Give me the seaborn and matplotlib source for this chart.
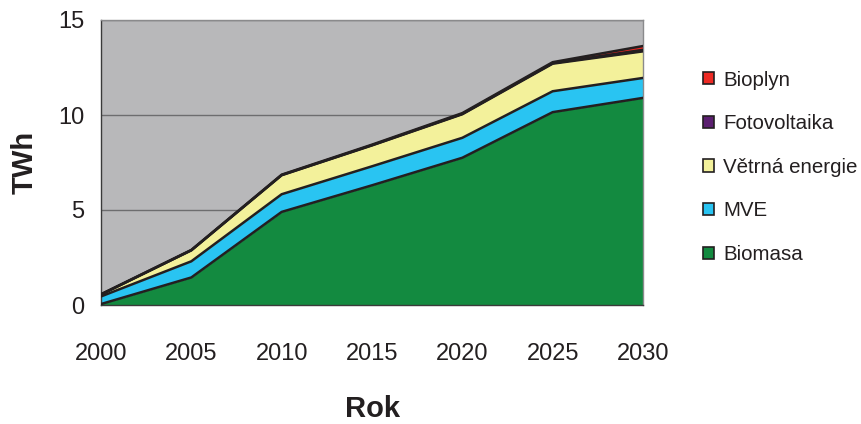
import matplotlib
matplotlib.use("Agg")
import matplotlib.pyplot as plt
from matplotlib.patches import Patch
import seaborn as sns
import pandas as pd
import numpy as np

# Electricity production from renewable sources (TWh)
years = [2000, 2005, 2010, 2015, 2020, 2025, 2030]
biomasa = [0.05, 1.45, 4.90, 6.30, 7.75, 10.15, 10.90]
mve = [0.40, 0.85, 0.93, 1.00, 1.05, 1.10, 1.05]
vetrna = [0.10, 0.58, 1.00, 1.10, 1.24, 1.45, 1.40]
fotovoltaika = [0.00, 0.00, 0.01, 0.01, 0.02, 0.03, 0.08]
bioplyn = [0.02, 0.02, 0.02, 0.03, 0.04, 0.05, 0.20]

series = ["Biomasa", "MVE", "Větrná energie", "Fotovoltaika", "Bioplyn"]
colors = ["#138a40", "#29c4f2", "#f3f19b", "#5b1f70", "#ee2a24"]

df = pd.DataFrame({"Rok": years, "Biomasa": biomasa, "MVE": mve,
                   "Větrná energie": vetrna, "Fotovoltaika": fotovoltaika,
                   "Bioplyn": bioplyn})

sns.set_theme(style="white")
plt.rcParams["font.family"] = ["Liberation Sans", "DejaVu Sans"]

fig = plt.figure(figsize=(8.61, 4.24), dpi=100)
ax = fig.add_axes([101 / 861, 119 / 424, 542 / 861, 285 / 424])
ax.set_facecolor("#b8b8ba")

cum = df[series].cumsum(axis=1)
lower = np.zeros(len(df))
for name, col in zip(series, colors):
    upper = cum[name].to_numpy()
    ax.fill_between(df["Rok"], lower, upper, color=col, linewidth=0, zorder=2)
    lower = upper

long = cum.assign(Rok=df["Rok"]).melt(id_vars="Rok", var_name="vrstva", value_name="TWh")
sns.lineplot(data=long, x="Rok", y="TWh", units="vrstva", estimator=None,
             color="#231f20", linewidth=1.8, ax=ax, zorder=3, legend=False)

ax.set_xlim(2000, 2030)
ax.set_ylim(0, 15)
ax.set_xticks(years)
ax.set_yticks([0, 5, 10, 15])
ax.yaxis.grid(True, color="#6d6d6f", linewidth=1.0, zorder=1)
ax.set_axisbelow(True)

for side in ["top", "right"]:
    ax.spines[side].set_color("#8a8a8c")
    ax.spines[side].set_linewidth(1.0)
for side in ["left", "bottom"]:
    ax.spines[side].set_color("#3a3a3a")
    ax.spines[side].set_linewidth(1.0)

ax.tick_params(axis="both", which="major", direction="out", length=6,
               width=1.0, color="#3a3a3a", labelsize=17, labelcolor="#231f20")
ax.tick_params(axis="x", pad=21)
ax.tick_params(axis="y", pad=6)

ax.set_xlabel("Rok", fontsize=21, fontweight="bold", color="#231f20", labelpad=22)
ax.set_ylabel("TWh", fontsize=21, fontweight="bold", color="#231f20", labelpad=14)

handles = [Patch(facecolor=c, edgecolor="#231f20", linewidth=1.2, label=n)
           for n, c in zip(series, colors)][::-1]
fig.legend(handles=handles, loc="upper left", bbox_to_anchor=(684 / 861, 1 - 52 / 424),
           frameon=False, fontsize=14.8, handlelength=0.55, handleheight=0.55,
           handletextpad=0.45, labelspacing=1.2, labelcolor="#231f20")

fig.savefig("out.png", dpi=100)
